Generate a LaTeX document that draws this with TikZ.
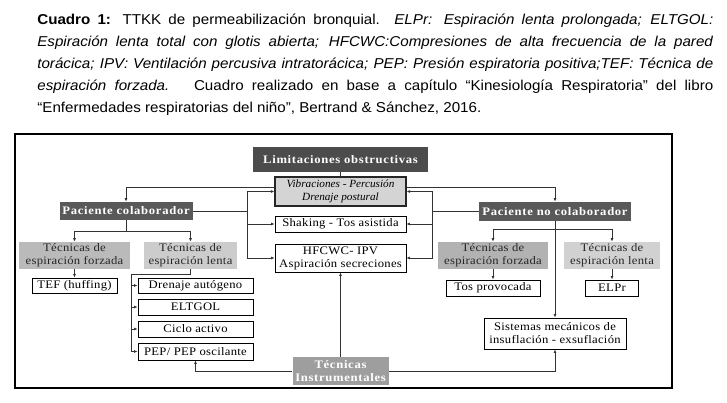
\documentclass[tikz,border=0pt]{standalone}
\usepackage{fontspec}
\usetikzlibrary{arrows.meta}
\setmainfont{Liberation Sans}[FakeStretch=1.06]
\newfontfamily\diagfont[FakeStretch=1.1,LetterSpace=2.5]{Liberation Serif}
\newfontfamily\diagslant[FakeStretch=1.02]{Liberation Serif}
\newfontfamily\diagheavy[FakeStretch=1.1,LetterSpace=6]{Liberation Serif}

\begin{document}
\begin{tikzpicture}[x = 1pt, y = -1pt,
	line width = 0.7pt, draw = black!80,
	tip/.style = {-{Latex[length = 3.5pt, width = 3pt]}},
	box/.style = {draw = black, line width = 0.9pt, inner sep = 0pt, align = center, text = black, font = \diagfont\fontsize{11.5}{13}\selectfont},
	darkbox/.style = {fill = black!70, inner sep = 0pt, align = center, text = white, font = \diagheavy\bfseries\fontsize{11.5}{13}\selectfont},
	greybox/.style = {inner sep = 0pt, align = center, text = black!85, font = \diagfont\fontsize{11.5}{13}\selectfont}]
	\useasboundingbox (0,0) rectangle (727,403);

	\node (cap)[anchor = base west, text width = 676pt, align = justify, inner sep = 0pt, font = \fontsize{14.3}{22}\selectfont] at(37,25) {
		\hyphenpenalty=10000
		\textbf{Cuadro 1:} TTKK de permeabilización bronquial. \textit{ELPr: Espiración lenta prolongada; ELTGOL:}\linebreak
		\textit{Espiración lenta total con glotis abierta; HFCWC:Compresiones de alta frecuencia de la pared}\linebreak
		\textit{torácica; IPV: Ventilación percusiva intratorácica; PEP: Presión espiratoria positiva;TEF: Técnica de}\linebreak
		\textit{espiración forzada.}\hspace{0.5em} Cuadro realizado en base a capítulo “Kinesiología Respiratoria” del libro\linebreak
		“Enfermedades respiratorias del niño”, Bertrand \& Sánchez, 2016.
	};

	\draw [line width = 2.5pt, draw = black] (15,134) rectangle (672,388);

	\node (lim)[darkbox, minimum width = 175pt, minimum height = 25pt] at(340.5,159.5) {Limitaciones obstructivas};
	\node (vib)[box, fill = black!17, line width = 1.3pt, draw = black!85, minimum width = 131pt, minimum height = 29pt, font = \diagslant\itshape\fontsize{11}{13}\selectfont] at(340.5,191.5) {Vibraciones - Percusión\\Drenaje postural};
	\node (sha)[box, minimum width = 131pt, minimum height = 16pt] at(340.5,224) {Shaking - Tos asistida};
	\node (hfc)[box, minimum width = 131pt, minimum height = 28pt] at(340.5,258) {HFCWC- IPV\\Aspiración secreciones};

	\node (pco)[darkbox, fill = black!65, minimum width = 133pt, minimum height = 18pt] at(126,211) {Paciente colaborador};
	\node (pnc)[darkbox, fill = black!65, minimum width = 152pt, minimum height = 19pt] at(555,211.5) {Paciente no colaborador};

	\node (tfl)[greybox, fill = black!27, minimum width = 111pt, minimum height = 27pt] at(74.5,255.5) {Técnicas de\\espiración forzada};
	\node (tll)[greybox, fill = black!20, minimum width = 93pt, minimum height = 27pt] at(190.5,255.5) {Técnicas de\\espiración lenta};
	\node (tfr)[greybox, fill = black!30, minimum width = 110pt, minimum height = 27pt] at(493,255.5) {Técnicas de\\espiración forzada};
	\node (tlr)[greybox, fill = black!18, minimum width = 96pt, minimum height = 27pt] at(612,255.5) {Técnicas de\\espiración lenta};

	\node (huf)[box, minimum width = 85pt, minimum height = 15pt] at(74.5,285.5) {TEF (huffing)};
	\node (dre)[box, minimum width = 115pt, minimum height = 15pt] at(195.5,285.5) {Drenaje autógeno};
	\node (elt)[box, minimum width = 115pt, minimum height = 16pt] at(195.5,307) {ELTGOL};
	\node (cic)[box, minimum width = 115pt, minimum height = 16pt] at(195.5,329) {Ciclo activo};
	\node (pep)[box, minimum width = 115pt, minimum height = 17pt] at(195.5,351.5) {PEP/ PEP oscilante};

	\node (tos)[box, minimum width = 94pt, minimum height = 16pt] at(493,288) {Tos provocada};
	\node (elp)[box, minimum width = 53pt, minimum height = 16pt] at(612,288) {ELPr};
	\node (sis)[box, minimum width = 142pt, minimum height = 31pt] at(555,333.5) {Sistemas mecánicos de\\insuflación - exsuflación};

	\node (ins)[darkbox, fill = black!38, minimum width = 96pt, minimum height = 28pt] at(340.5,371) {Técnicas\\Instrumentales};

	\coordinate (bl) at(247,211);
	\coordinate (br) at(432,211.5);
	\coordinate (pl) at(126,231);
	\coordinate (pr) at(555,229);
	\coordinate (tb) at(131,274);

	\draw (lim)--(vib);
	\draw [tip]([yshift = 4.5pt]vib.west) -| (pco);
	\draw [tip]([yshift = 4.5pt]vib.east) -| (pnc);

	\draw (pco)--(bl);
	\draw [tip](bl) |- (vib);
	\draw [tip](bl) |- (sha);
	\draw [tip](bl) |- (hfc);
	\draw (pnc)--(br);
	\draw [tip](br) |- (vib);
	\draw [tip](br) |- (sha);
	\draw [tip](br) |- (hfc);

	\draw (pco)--(pl);
	\draw [tip](pl) -| (tfl);
	\draw [tip](pl) -| (tll);
	\draw [tip](pr) -| (tfr);
	\draw [tip](pr) -| (tlr);
	\draw [tip](pnc)--(sis);

	\draw [tip](tfl)--(huf);
	\draw [tip](tfr)--(tos);
	\draw [tip](tlr)--(elp);

	\draw (tll) |- (tb);
	\draw [tip](tb) |- (dre);
	\draw [tip](tb) |- (elt);
	\draw [tip](tb) |- (cic);
	\draw [tip](tb) |- (pep);

	\draw [tip](ins)--(hfc);
	\draw [tip](ins) -| (pep);
	\draw [tip](ins) -| (sis);
\end{tikzpicture}
\end{document}
